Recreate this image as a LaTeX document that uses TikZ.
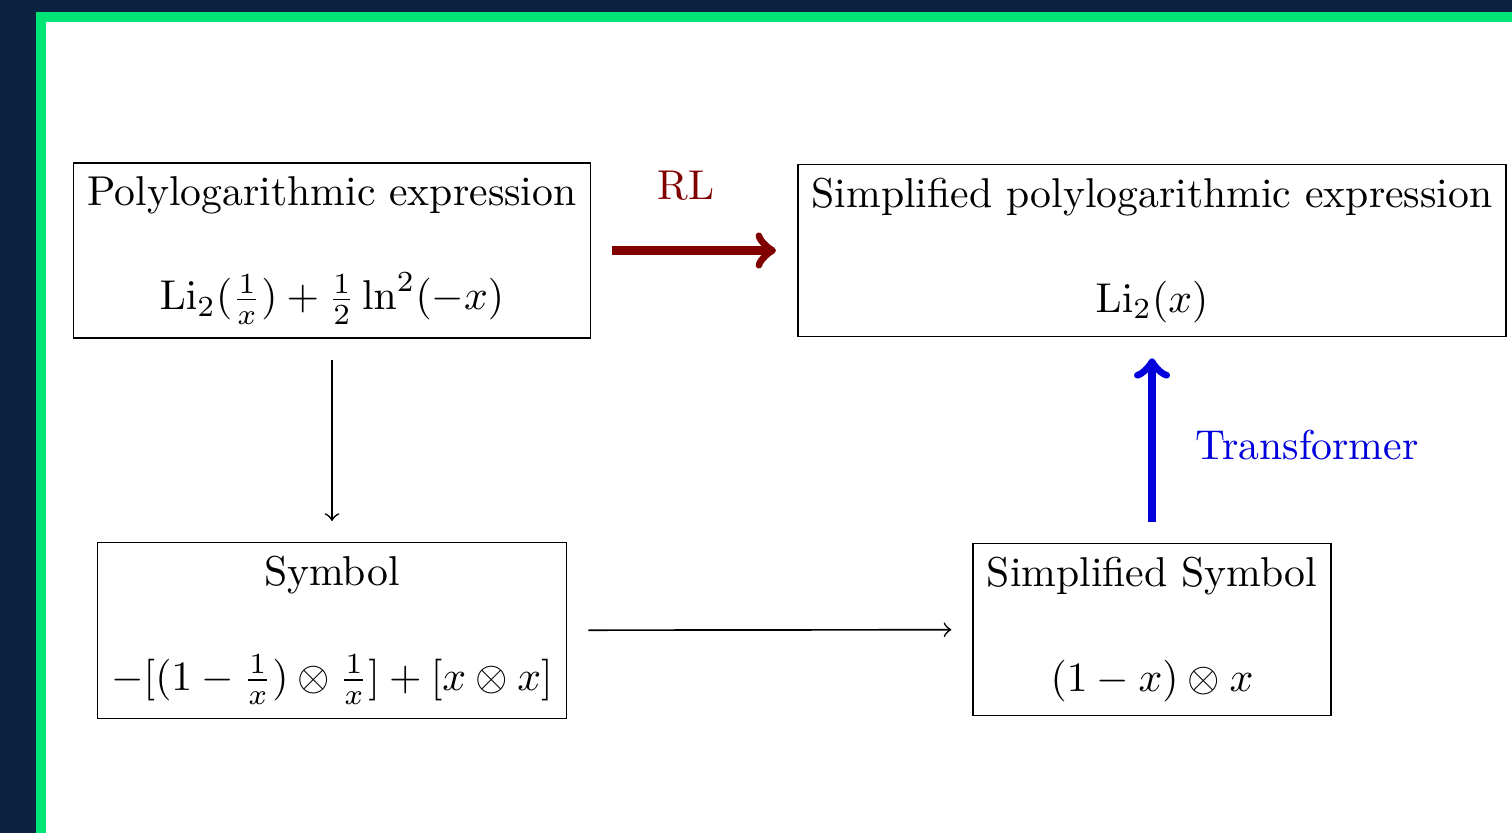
\documentclass[tikz,border=0pt]{standalone}
\usepackage{amsmath}
\definecolor{navy}{HTML}{0B2240}
\definecolor{bgreen}{HTML}{00E676}
\definecolor{rlred}{RGB}{128,0,0}
\definecolor{tblue}{RGB}{0,0,220}
\begin{document}
\begin{tikzpicture}[x=0.2398pt,y=-0.2398pt]
\tikzset{
  box/.style={draw, align=center, line width=0.4pt, inner sep=3.333pt},
  flow/.style={->, shorten >=5pt, shorten <=5pt},
  bigflow/.style={flow, line width=2pt}
}
\useasboundingbox (0,0) rectangle (1512,833);
\fill[navy] (0,0) rectangle (1512,833);
\fill[bgreen] (36,12) rectangle (1512,833);
\fill[white] (46,22) rectangle (1512,833);
\node[box] (b1) at (332,250.5) {Polylogarithmic expression\\[13pt] $\mathrm{Li}_2(\frac{1}{x})+\frac{1}{2}\ln^2(-x)$};
\node[box] (b2) at (1152,250.5) {Simplified polylogarithmic expression\\[13pt] $\mathrm{Li}_2(x)$};
\node[box] (b3) at (332,630.5) {Symbol\\[13pt] $-[(1-\frac{1}{x})\otimes\frac{1}{x}]+[x\otimes x]$};
\node[box] (b4) at (1152,629.5) {Simplified Symbol\\[13pt] $(1-x)\otimes x$};
\draw[bigflow, rlred] (b1) -- (b2);
\node[rlred] (rl) at (686,186) {RL};
\draw[flow] (b1) -- (b3);
\draw[flow] (b3) -- (b4);
\draw[bigflow, tblue] (b4) -- (b2);
\node[tblue] (tf) at (1307,445) {Transformer};
\end{tikzpicture}
\end{document}
